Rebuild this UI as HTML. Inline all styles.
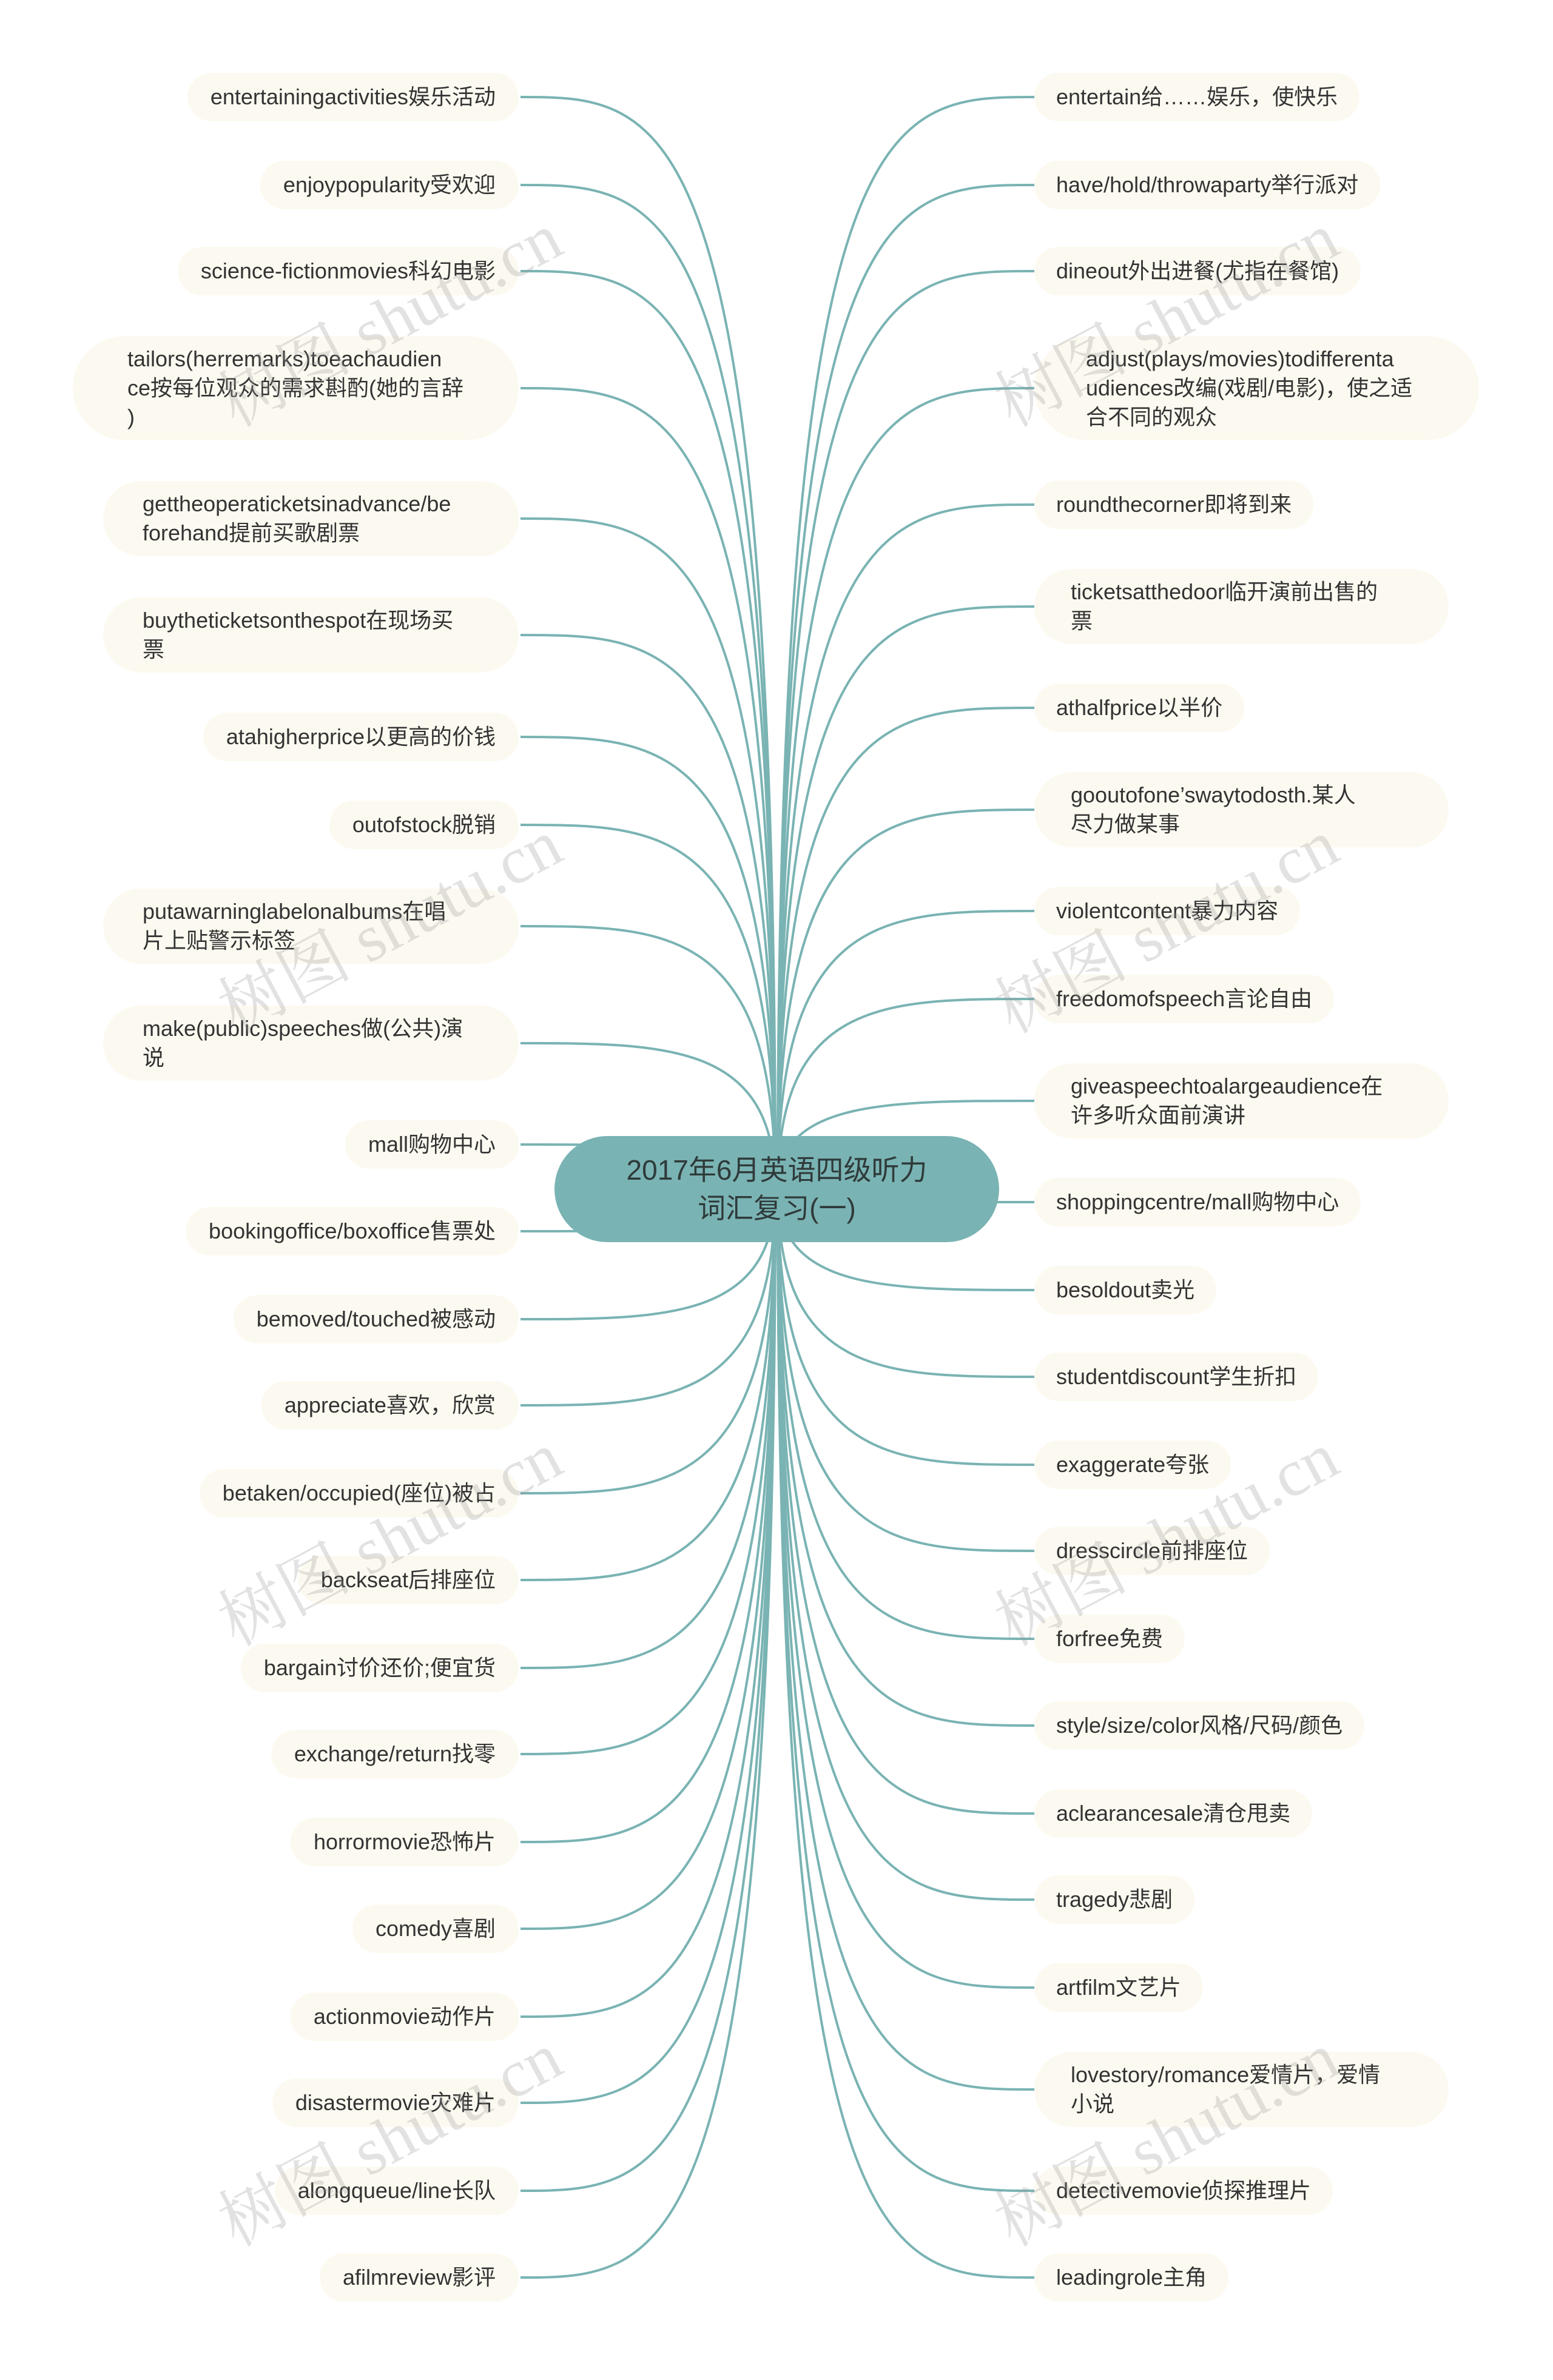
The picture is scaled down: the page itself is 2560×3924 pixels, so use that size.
<!DOCTYPE html>
<html><head><meta charset="utf-8">
<style>
html,body{margin:0;padding:0;background:#fff;}
#c{position:relative;width:2560px;height:3924px;overflow:hidden;font-family:"Liberation Sans","Noto Sans CJK SC",sans-serif;color:#333;}
svg{position:absolute;left:0;top:0;}
.n{position:absolute;background:#fcfaf0;border-radius:60px;font-size:36px;line-height:40px;white-space:nowrap;transform:translateY(-50%);box-sizing:border-box;}
.l{right:1705px;padding:20px 38px;}
.r{left:1705px;padding:20px 36px;}
.m{line-height:48px;padding:14px 0 14px 65px;border-radius:70px;}
.ml{right:1705px;}
.mr{left:1705px;}
.center{position:absolute;left:914px;top:1873px;width:733px;height:175px;background:#7ab3b3;border-radius:88px;display:flex;align-items:center;justify-content:center;text-align:center;font-size:46px;line-height:63px;color:#2f3a3a;}
.wm{position:absolute;font-family:"Liberation Serif","Noto Serif CJK SC",serif;font-size:110px;color:rgba(150,150,150,0.28);transform:rotate(-28deg);white-space:nowrap;}
</style></head><body><div id="c">
<svg width="2560" height="3924" fill="none" stroke="#7ab3b3" stroke-width="4">
<path d="M1278 1960 C1278 160 1100 160 858 160"/>
<path d="M1278 1960 C1278 305 1100 305 858 305"/>
<path d="M1278 1960 C1278 447 1100 447 858 447"/>
<path d="M1278 1960 C1278 640 1100 640 858 640"/>
<path d="M1278 1960 C1278 855 1100 855 858 855"/>
<path d="M1278 1960 C1278 1047 1100 1047 858 1047"/>
<path d="M1278 1960 C1278 1215 1100 1215 858 1215"/>
<path d="M1278 1960 C1278 1360 1100 1360 858 1360"/>
<path d="M1278 1960 C1278 1527 1100 1527 858 1527"/>
<path d="M1278 1960 C1278 1720 1100 1720 858 1720"/>
<path d="M1278 1960 C1278 1887 1100 1887 858 1887"/>
<path d="M1278 1960 C1278 2030 1100 2030 858 2030"/>
<path d="M1278 1960 C1278 2175 1100 2175 858 2175"/>
<path d="M1278 1960 C1278 2317 1100 2317 858 2317"/>
<path d="M1278 1960 C1278 2462 1100 2462 858 2462"/>
<path d="M1278 1960 C1278 2605 1100 2605 858 2605"/>
<path d="M1278 1960 C1278 2750 1100 2750 858 2750"/>
<path d="M1278 1960 C1278 2892 1100 2892 858 2892"/>
<path d="M1278 1960 C1278 3037 1100 3037 858 3037"/>
<path d="M1278 1960 C1278 3180 1100 3180 858 3180"/>
<path d="M1278 1960 C1278 3325 1100 3325 858 3325"/>
<path d="M1278 1960 C1278 3467 1100 3467 858 3467"/>
<path d="M1278 1960 C1278 3612 1100 3612 858 3612"/>
<path d="M1278 1960 C1278 3755 1100 3755 858 3755"/>
<path d="M1282 1960 C1282 160 1460 160 1705 160"/>
<path d="M1282 1960 C1282 305 1460 305 1705 305"/>
<path d="M1282 1960 C1282 447 1460 447 1705 447"/>
<path d="M1282 1960 C1282 640 1460 640 1705 640"/>
<path d="M1282 1960 C1282 832 1460 832 1705 832"/>
<path d="M1282 1960 C1282 1000 1460 1000 1705 1000"/>
<path d="M1282 1960 C1282 1167 1460 1167 1705 1167"/>
<path d="M1282 1960 C1282 1335 1460 1335 1705 1335"/>
<path d="M1282 1960 C1282 1502 1460 1502 1705 1502"/>
<path d="M1282 1960 C1282 1647 1460 1647 1705 1647"/>
<path d="M1282 1960 C1282 1815 1460 1815 1705 1815"/>
<path d="M1282 1960 C1282 1982 1460 1982 1705 1982"/>
<path d="M1282 1960 C1282 2127 1460 2127 1705 2127"/>
<path d="M1282 1960 C1282 2270 1460 2270 1705 2270"/>
<path d="M1282 1960 C1282 2415 1460 2415 1705 2415"/>
<path d="M1282 1960 C1282 2557 1460 2557 1705 2557"/>
<path d="M1282 1960 C1282 2702 1460 2702 1705 2702"/>
<path d="M1282 1960 C1282 2845 1460 2845 1705 2845"/>
<path d="M1282 1960 C1282 2990 1460 2990 1705 2990"/>
<path d="M1282 1960 C1282 3132 1460 3132 1705 3132"/>
<path d="M1282 1960 C1282 3277 1460 3277 1705 3277"/>
<path d="M1282 1960 C1282 3445 1460 3445 1705 3445"/>
<path d="M1282 1960 C1282 3612 1460 3612 1705 3612"/>
<path d="M1282 1960 C1282 3755 1460 3755 1705 3755"/>
</svg>

<div class="n l" style="top:160px">entertainingactivities娱乐活动</div>
<div class="n l" style="top:305px">enjoypopularity受欢迎</div>
<div class="n l" style="top:447px">science-fictionmovies科幻电影</div>
<div class="n m ml" style="top:640px;width:735px;padding-left:90px;border-radius:90px">tailors(herremarks)toeachaudien<br>ce按每位观众的需求斟酌(她的言辞<br>)</div>
<div class="n m ml" style="top:855px;width:685px">gettheoperaticketsinadvance/be<br>forehand提前买歌剧票</div>
<div class="n m ml" style="top:1047px;width:685px">buytheticketsonthespot在现场买<br>票</div>
<div class="n l" style="top:1215px">atahigherprice以更高的价钱</div>
<div class="n l" style="top:1360px">outofstock脱销</div>
<div class="n m ml" style="top:1527px;width:685px">putawarninglabelonalbums在唱<br>片上贴警示标签</div>
<div class="n m ml" style="top:1720px;width:685px">make(public)speeches做(公共)演<br>说</div>
<div class="n l" style="top:1887px">mall购物中心</div>
<div class="n l" style="top:2030px">bookingoffice/boxoffice售票处</div>
<div class="n l" style="top:2175px">bemoved/touched被感动</div>
<div class="n l" style="top:2317px">appreciate喜欢，欣赏</div>
<div class="n l" style="top:2462px">betaken/occupied(座位)被占</div>
<div class="n l" style="top:2605px">backseat后排座位</div>
<div class="n l" style="top:2750px">bargain讨价还价;便宜货</div>
<div class="n l" style="top:2892px">exchange/return找零</div>
<div class="n l" style="top:3037px">horrormovie恐怖片</div>
<div class="n l" style="top:3180px">comedy喜剧</div>
<div class="n l" style="top:3325px">actionmovie动作片</div>
<div class="n l" style="top:3467px">disastermovie灾难片</div>
<div class="n l" style="top:3612px">alongqueue/line长队</div>
<div class="n l" style="top:3755px">afilmreview影评</div>

<div class="n r" style="top:160px">entertain给……娱乐，使快乐</div>
<div class="n r" style="top:305px">have/hold/throwaparty举行派对</div>
<div class="n r" style="top:447px">dineout外出进餐(尤指在餐馆)</div>
<div class="n m mr" style="top:640px;width:733px;padding-left:85px;border-radius:90px">adjust(plays/movies)todifferenta<br>udiences改编(戏剧/电影)，使之适<br>合不同的观众</div>
<div class="n r" style="top:832px">roundthecorner即将到来</div>
<div class="n m mr" style="top:1000px;width:683px;padding-left:60px">ticketsatthedoor临开演前出售的<br>票</div>
<div class="n r" style="top:1167px">athalfprice以半价</div>
<div class="n m mr" style="top:1335px;width:683px;padding-left:60px">gooutofone’swaytodosth.某人<br>尽力做某事</div>
<div class="n r" style="top:1502px">violentcontent暴力内容</div>
<div class="n r" style="top:1647px">freedomofspeech言论自由</div>
<div class="n m mr" style="top:1815px;width:683px;padding-left:60px">giveaspeechtoalargeaudience在<br>许多听众面前演讲</div>
<div class="n r" style="top:1982px">shoppingcentre/mall购物中心</div>
<div class="n r" style="top:2127px">besoldout卖光</div>
<div class="n r" style="top:2270px">studentdiscount学生折扣</div>
<div class="n r" style="top:2415px">exaggerate夸张</div>
<div class="n r" style="top:2557px">dresscircle前排座位</div>
<div class="n r" style="top:2702px">forfree免费</div>
<div class="n r" style="top:2845px">style/size/color风格/尺码/颜色</div>
<div class="n r" style="top:2990px">aclearancesale清仓甩卖</div>
<div class="n r" style="top:3132px">tragedy悲剧</div>
<div class="n r" style="top:3277px">artfilm文艺片</div>
<div class="n m mr" style="top:3445px;width:683px;padding-left:60px">lovestory/romance爱情片，爱情<br>小说</div>
<div class="n r" style="top:3612px">detectivemovie侦探推理片</div>
<div class="n r" style="top:3755px">leadingrole主角</div>

<div class="center">2017年6月英语四级听力<br>词汇复习(一)</div>

<div class="wm" style="left:330px;top:440px">树图 shutu.cn</div>
<div class="wm" style="left:1610px;top:440px">树图 shutu.cn</div>
<div class="wm" style="left:330px;top:1440px">树图 shutu.cn</div>
<div class="wm" style="left:1610px;top:1440px">树图 shutu.cn</div>
<div class="wm" style="left:330px;top:2450px">树图 shutu.cn</div>
<div class="wm" style="left:1610px;top:2450px">树图 shutu.cn</div>
<div class="wm" style="left:330px;top:3440px">树图 shutu.cn</div>
<div class="wm" style="left:1610px;top:3440px">树图 shutu.cn</div>
</div></body></html>
